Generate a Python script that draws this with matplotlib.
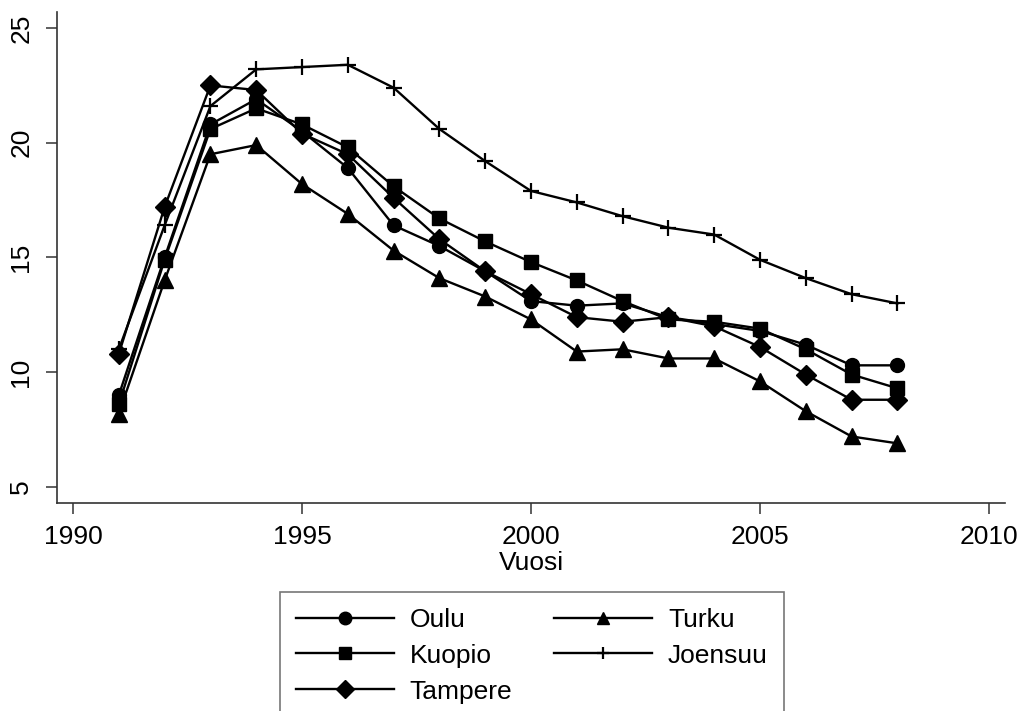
import matplotlib
matplotlib.use("Agg")
import matplotlib.pyplot as plt

plt.rcParams['font.family'] = ['Liberation Sans', 'DejaVu Sans']

## Data ########################

years = list(range(1991, 2009))

oulu = [9.0, 15.0, 20.8, 21.9, 20.5, 18.9, 16.4, 15.5, 14.4, 13.1,
        12.9, 13.0, 12.4, 12.1, 11.8, 11.2, 10.3, 10.3]
kuopio = [8.6, 14.9, 20.6, 21.5, 20.8, 19.8, 18.1, 16.7, 15.7, 14.8,
          14.0, 13.1, 12.3, 12.2, 11.9, 11.0, 9.9, 9.3]
tampere = [10.8, 17.2, 22.5, 22.3, 20.4, 19.5, 17.6, 15.8, 14.4, 13.4,
           12.4, 12.2, 12.4, 12.0, 11.1, 9.9, 8.8, 8.8]
turku = [8.2, 14.0, 19.5, 19.9, 18.2, 16.9, 15.3, 14.1, 13.3, 12.3,
         10.9, 11.0, 10.6, 10.6, 9.6, 8.3, 7.2, 6.9]
joensuu = [11.0, 16.4, 21.6, 23.2, 23.3, 23.4, 22.4, 20.6, 19.2, 17.9,
           17.4, 16.8, 16.3, 16.0, 14.9, 14.1, 13.4, 13.0]

xticks = [1990, 1995, 2000, 2005, 2010]
yticks = [5, 10, 15, 20, 25]

## Plot ########################

lw = 1.7
fig = plt.figure(figsize=(10.23, 7.11), dpi=100)
ax = fig.add_axes([57/1023, 1 - 503/711, (1005 - 57)/1023, (503 - 12)/711])

h_oulu, = ax.plot(years, oulu, 'k-', marker='o', markersize=10, linewidth=lw, label='Oulu')
h_kuopio, = ax.plot(years, kuopio, 'k-', marker='s', markersize=10, linewidth=lw, label='Kuopio')
h_tampere, = ax.plot(years, tampere, 'k-', marker='D', markersize=10, linewidth=lw, label='Tampere')
h_turku, = ax.plot(years, turku, 'k-', marker='^', markersize=11, linewidth=lw, label='Turku')
h_joensuu, = ax.plot(years, joensuu, 'k-', marker='+', markersize=11, markeredgewidth=1.6,
                     linewidth=lw, label='Joensuu')

ax.set_xlim(1989.65, 2010.35)
ax.set_ylim(4.3, 25.7)
ax.set_xticks(xticks)
ax.set_yticks(yticks)

for s in ['top', 'right']:
    ax.spines[s].set_visible(False)
for s in ['left', 'bottom']:
    ax.spines[s].set_color('#333333')
    ax.spines[s].set_linewidth(1.2)

ax.tick_params(axis='both', length=8, width=1.1, color='#333333', labelsize=19, pad=8)
ax.tick_params(axis='y', pad=9)
for lab in ax.get_yticklabels():
    lab.set_rotation(90)
    lab.set_va('center')

ax.set_xlabel('Vuosi', fontsize=19, labelpad=1)

# column-major fill: first column Oulu/Kuopio/Tampere, second Turku/Joensuu
leg = fig.legend(handles=[h_oulu, h_kuopio, h_tampere, h_turku, h_joensuu],
                 ncol=2, loc='upper center', bbox_to_anchor=(532/1023, 1 - 592/711),
                 borderaxespad=0, fontsize=19, handlelength=3.7, handletextpad=0.6,
                 columnspacing=1.6, labelspacing=0.45, borderpad=0.6,
                 fancybox=False, frameon=True)
leg.get_frame().set_edgecolor('#555555')
leg.get_frame().set_linewidth(1.2)
for h in leg.legend_handles:
    h.set_markersize(9)

fig.savefig('out.png', dpi=100)
